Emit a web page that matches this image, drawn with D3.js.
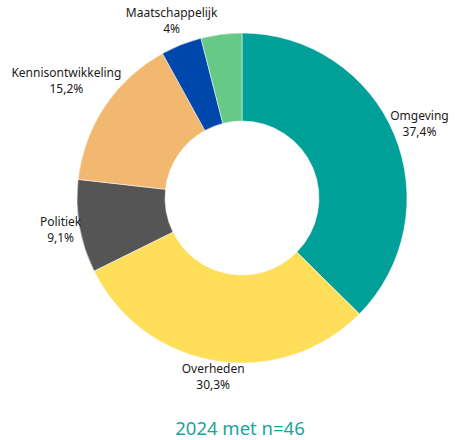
<!DOCTYPE html>
<html>
<head>
<meta charset="utf-8">
<script src="https://cdn.jsdelivr.net/npm/d3@7"></script>
<style>
  body { margin: 0; background: #fff; }
  svg { display: block; font-family: "Noto Sans", "Open Sans", sans-serif; }
</style>
</head>
<body>
<div id="chart"></div>
<script>
// slices, clockwise from 12 o'clock
const categories = ['Omgeving', 'Overheden', 'Politiek', 'Kennisontwikkeling', 'Maatschappelijk', ''];
const values = [37.4, 30.3, 9.1, 15.2, 4, 4];
const labels = ['37,4%', '30,3%', '9,1%', '15,2%', '4%', ''];
const colors = ['#00A098', '#FFDE5A', '#555555', '#F2B86F', '#0047AB', '#66C985'];

const width = 456, height = 440;
const cx = 242, cy = 198;
const outerR = 165, innerR = 77;
const labelR = 163;

const svg = d3.select('#chart').append('svg')
    .attr('width', width)
    .attr('height', height);

const pie = d3.pie().sort(null).value(d => d.value);
const arc = d3.arc().innerRadius(innerR).outerRadius(outerR);

const data = categories.map((c, i) => ({name: c, value: values[i], label: labels[i], color: colors[i]}));
const arcs = pie(data);

const g = svg.append('g').attr('transform', `translate(${cx},${cy})`);

g.selectAll('path')
    .data(arcs)
    .join('path')
    .attr('d', arc)
    .attr('fill', d => d.data.color)
    .attr('stroke', '#fff')
    .attr('stroke-width', 0.5);

// labels, pushed out so the text box sits just outside the ring
const labelG = g.selectAll('g.lbl')
    .data(arcs.filter(d => d.data.name))
    .join('g')
    .attr('class', 'lbl');

labelG.append('text')
    .attr('text-anchor', 'middle')
    .attr('font-size', 12)
    .attr('fill', '#1a1a1a')
    .each(function(d) {
        const t = d3.select(this);
        t.append('tspan').attr('x', 0).attr('dy', '-0.3em').text(d.data.name);
        t.append('tspan').attr('x', 0).attr('dy', '1.32em').text(d.data.label);
    });

labelG.attr('transform', function(d) {
    const box = this.getBBox();
    const a = (d.startAngle + d.endAngle) / 2;
    const sx = Math.sin(a), sy = -Math.cos(a);
    const hw = box.width / 2, hh = box.height / 2;
    const r = labelR + 0.9 * hw * Math.abs(sx) + 0.8 * hh * Math.abs(sy);
    const ox = box.x + hw, oy = box.y + hh;
    return `translate(${r * sx - ox},${r * sy - oy})`;
});

svg.append('text')
    .attr('x', 240)
    .attr('y', 435)
    .attr('text-anchor', 'middle')
    .attr('font-size', 18.5)
    .attr('fill', '#1AA59C')
    .text('2024 met n=46');
</script>
</body>
</html>
